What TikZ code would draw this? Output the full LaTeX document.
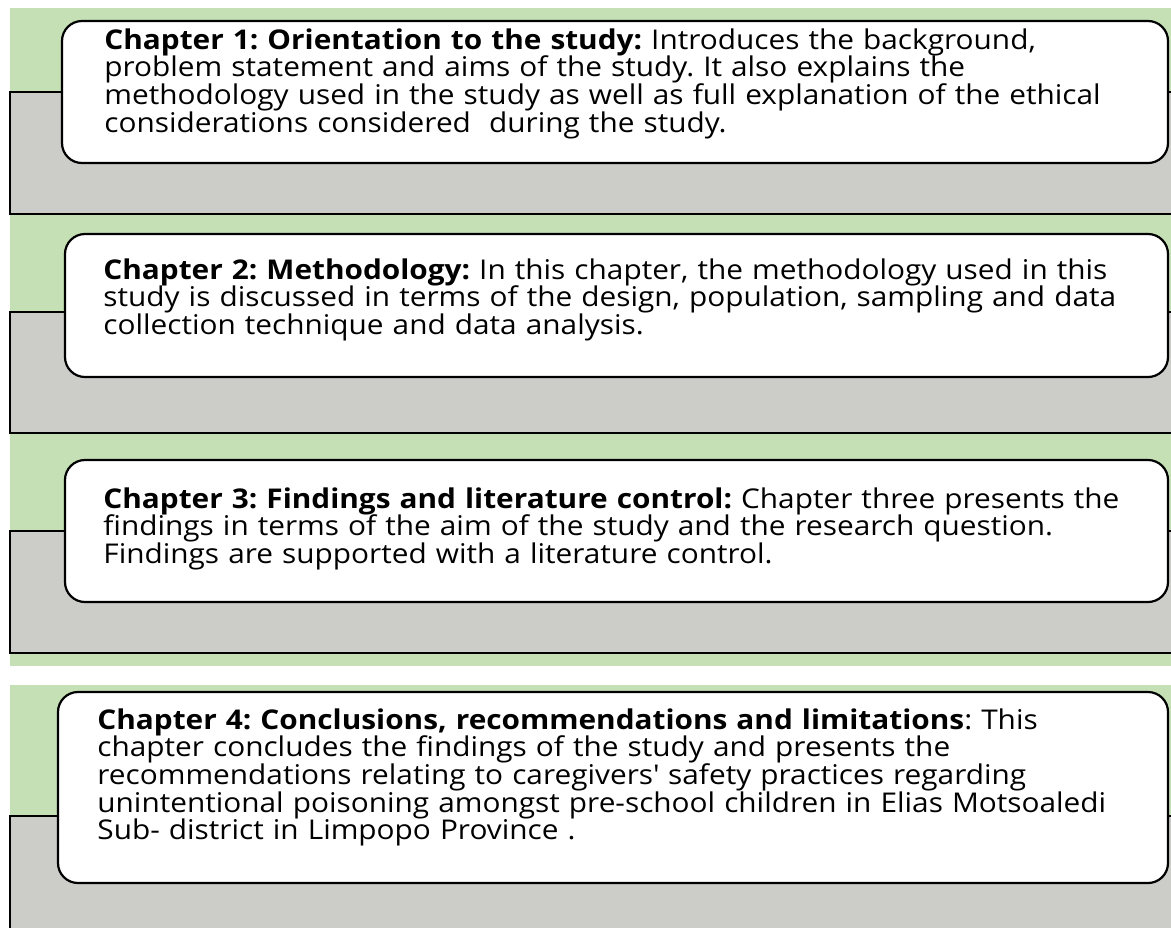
\documentclass[tikz,border=0pt]{standalone}
\usepackage{fontspec}
\setmainfont{Open Sans}[FakeStretch=1.095]
\usepackage{xcolor}
\definecolor{bandgreen}{HTML}{C5E0B4}
\definecolor{bargray}{RGB}{204,205,200}
\frenchspacing
\newcommand\chfont{\fontsize{13.6}{13.85}\selectfont\setlength{\lineskiplimit}{-20pt}}
\tikzset{band/.style={fill=bandgreen,draw=none},
	bar/.style={fill=bargray,draw=black,line width=1pt},
	chbox/.style={draw=black,fill=white,line width=1.1pt,rounded corners=10pt},
	chtext/.style={anchor=base west,inner sep=0pt,text width=545pt,align=left,
		font=\chfont}}

\begin{document}
\begin{tikzpicture}[x=0.5pt,y=-0.5pt]
\useasboundingbox (0,0) rectangle (1171,927);
\clip (0,0) rectangle (1171,927);
\fill[band] (10,8) rectangle (1180,666);
\fill[band] (10,685) rectangle (1180,940);
\draw[bar] (10,92) rectangle (1180,214);
\draw[bar] (10,312) rectangle (1180,433);
\draw[bar] (10,531) rectangle (1180,653);
\draw[bar] (10,816) rectangle (1180,940);
\draw[chbox] (62,21) rectangle (1168,163);
\draw[chbox] (65,234) rectangle (1168,377);
\draw[chbox] (65,460) rectangle (1168,602);
\draw[chbox] (58,692) rectangle (1168,883);
\node[chtext] (ch1) at (104,49) {\textbf{Chapter 1: Orientation to the study:} Introduces the background,\\
	problem statement and aims of the study. It also explains the\\
	methodology used in the study as well as full explanation of the ethical\\
	considerations considered\ \ during the study.};
\node[chtext] (ch2) at (103,279) {\textbf{Chapter 2: Methodology:} In this chapter, the methodology used in this\\
	study is discussed in terms of the design, population, sampling and data\\
	collection technique and data analysis.};
\node[chtext] (ch3) at (103,508) {\textbf{Chapter 3: Findings and literature control:} Chapter three presents the\\
	findings in terms of the aim of the study and the research question.\\
	Findings are supported with a literature control.};
\node[chtext] (ch4) at (97,729) {\textbf{Chapter 4: Conclusions, recommendations and limitations}: This\\
	chapter concludes the findings of the study and presents the\\
	recommendations relating to caregivers\textquotesingle{} safety practices regarding\\
	unintentional poisoning amongst pre-school children in Elias Motsoaledi\\
	Sub- district in Limpopo Province .};
\end{tikzpicture}
\end{document}
